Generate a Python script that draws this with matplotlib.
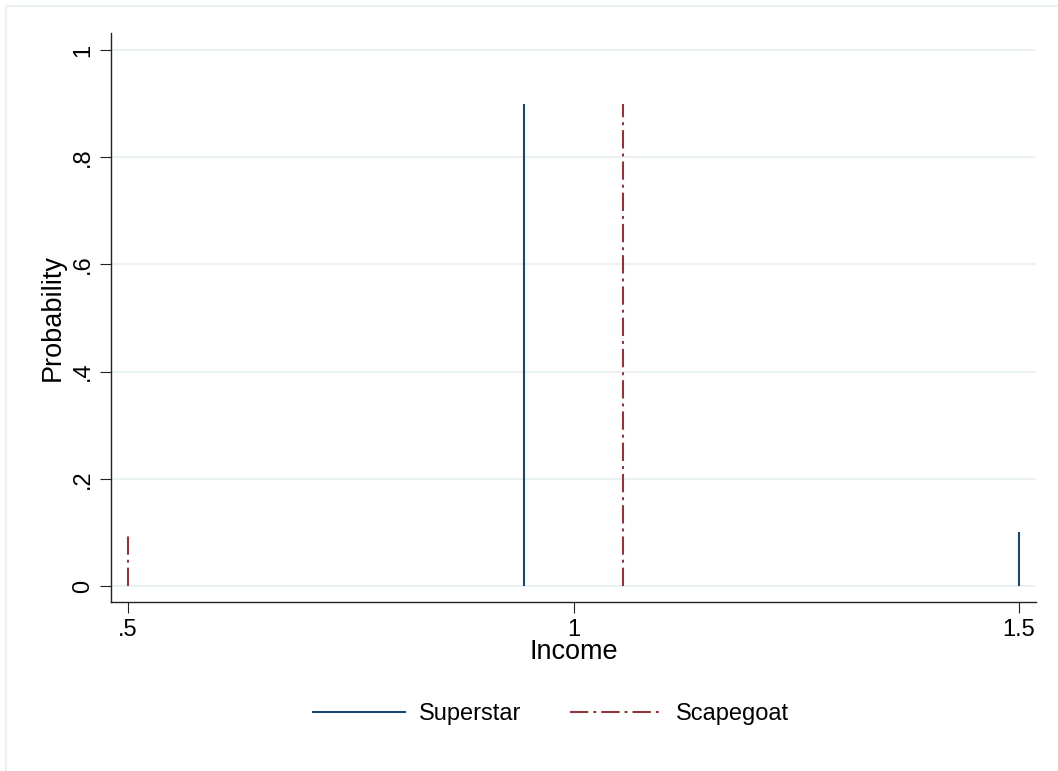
import matplotlib
matplotlib.use("Agg")
import matplotlib.pyplot as plt
from matplotlib.patches import Rectangle
from matplotlib.lines import Line2D

# values
superstar_income = [17 / 18, 1.5]
superstar_prob = [0.9, 0.1]
scapegoat_income = [0.5, 19 / 18]
scapegoat_prob = [0.1, 0.9]

x_ticks = [0.5, 1.0, 1.5]
x_labels = [".5", "1", "1.5"]
y_ticks = [0, 0.2, 0.4, 0.6, 0.8, 1.0]
y_labels = ["0", ".2", ".4", ".6", ".8", "1"]

blue = "#1a476f"
red = "#90353b"
grid_col = "#eaf2f3"
dashdot = (0, (8.8, 2.4, 1.4, 2.4))

plt.rcParams["font.family"] = ["Liberation Sans", "DejaVu Sans"]
plt.rcParams["font.size"] = 17

fig = plt.figure(figsize=(10.58, 7.71), dpi=100)
# light outer frame like Stata's graph region
fig.patches.append(Rectangle((6 / 1058, -0.01), 1.1, 1 - 6 / 771 + 0.01,
                             transform=fig.transFigure, fill=False,
                             edgecolor=grid_col, lw=1.5))

ax = fig.add_axes([0.1049, 0.2192, 0.9792 - 0.1049, 0.9572 - 0.2192])

ax.vlines(superstar_income, 0, superstar_prob, color=blue, lw=1.5, label="Superstar")
ax.vlines(scapegoat_income, 0, scapegoat_prob, color=red, lw=1.5,
          linestyles=[dashdot], label="Scapegoat")

ax.set_xlim(0.4809, 1.519)
ax.set_ylim(-0.0299, 1.0317)

ax.set_xticks(x_ticks)
ax.set_xticklabels(x_labels)
ax.set_yticks(y_ticks)
ax.set_yticklabels(y_labels, rotation=90, va="center")

ax.yaxis.grid(True, color=grid_col, lw=1.5)
ax.set_axisbelow(True)
for s in ["top", "right"]:
    ax.spines[s].set_visible(False)
for s in ["left", "bottom"]:
    ax.spines[s].set_linewidth(1.0)
    ax.spines[s].set_color("#222222")
ax.tick_params(length=8, width=0.8, color="#222222", pad=4)

ax.set_xlabel("Income", fontsize=19.5, labelpad=-1)
ax.set_ylabel("Probability", fontsize=19.5, labelpad=5)

handles = [Line2D([], [], color=blue, lw=1.5),
           Line2D([], [], color=red, lw=1.5, linestyle=dashdot)]
fig.legend(handles, ["Superstar", "Scapegoat"], loc="center", ncol=2,
           bbox_to_anchor=(0.521, 0.074), frameon=False, handlelength=3.9,
           handletextpad=0.6, columnspacing=2.05)

fig.savefig("out.png", dpi=100)
